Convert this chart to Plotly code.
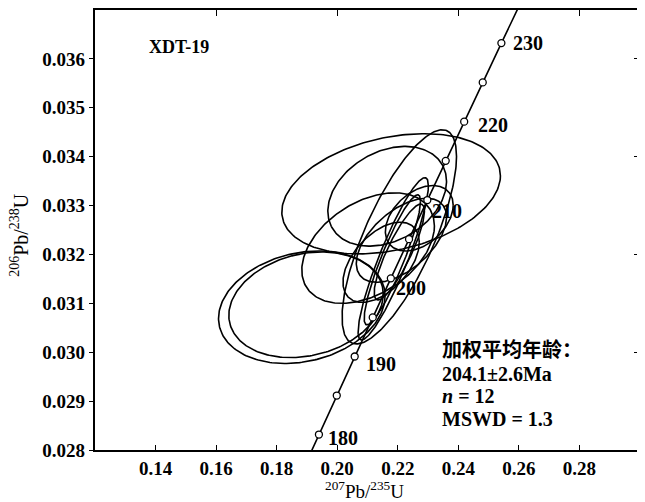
import numpy as np
import plotly.graph_objects as go

# Concordia reference points (age in Ma, 207Pb/235U, 206Pb/238U)
conc_age = [175, 180, 185, 190, 195, 200, 205, 210, 215, 220, 225, 230, 235]
conc_x = [0.18809, 0.19396, 0.19985, 0.20577, 0.21173, 0.21771, 0.22372, 0.22976,
          0.23583, 0.24193, 0.24806, 0.25422, 0.26041]
conc_y = [0.027519, 0.028316, 0.029114, 0.029912, 0.030712, 0.031511, 0.032312,
          0.033113, 0.033914, 0.034716, 0.035519, 0.036323, 0.037127]
label_ages = [180, 190, 200, 210, 220, 230]

# Zircon analyses: 207Pb/235U, half-extent, 206Pb/238U, half-extent, error correlation
ell_x = [0.2178, 0.2165, 0.2102, 0.1883, 0.1897, 0.2205, 0.2185, 0.2182, 0.2271, 0.2205, 0.2145, 0.2212]
ell_sx = [0.0361, 0.0196, 0.0219, 0.0275, 0.0255, 0.0189, 0.0116, 0.0093, 0.0112, 0.0083, 0.0126, 0.0149]
ell_y = [0.03324, 0.03319, 0.03213, 0.03092, 0.03097, 0.03236, 0.03191, 0.03189, 0.03274, 0.03205, 0.03184, 0.03229]
ell_sy = [0.00123, 0.00102, 0.00113, 0.00115, 0.00108, 0.00219, 0.00166, 0.00133, 0.00067, 0.00098, 0.00082, 0.00086]
ell_rho = [0.30, 0.30, 0.40, 0.20, 0.20, 0.75, 0.90, 0.90, 0.40, 0.85, 0.50, 0.55]

x_ticks = [0.14, 0.16, 0.18, 0.20, 0.22, 0.24, 0.26, 0.28]
y_ticks = [0.028, 0.029, 0.030, 0.031, 0.032, 0.033, 0.034, 0.035, 0.036]

FONT = "Liberation Serif"
fig = go.Figure()

t = np.linspace(0, 2 * np.pi, 241)
for cx, sx, cy, sy, r in zip(ell_x, ell_sx, ell_y, ell_sy, ell_rho):
    ex = cx + sx * np.cos(t)
    ey = cy + sy * (r * np.cos(t) + np.sqrt(1 - r * r) * np.sin(t))
    fig.add_trace(go.Scatter(x=ex, y=ey, mode="lines",
                             line=dict(color="black", width=1.6),
                             hoverinfo="skip", showlegend=False))

# concordia curve
fig.add_trace(go.Scatter(x=conc_x, y=conc_y, mode="lines",
                         line=dict(color="black", width=1.6),
                         hoverinfo="skip", showlegend=False))
mx = [x for a, x in zip(conc_age, conc_x) if 180 <= a <= 230]
my = [y for a, y in zip(conc_age, conc_y) if 180 <= a <= 230]
fig.add_trace(go.Scatter(x=mx, y=my, mode="markers",
                         marker=dict(size=7, color="white", line=dict(color="black", width=1.3)),
                         hoverinfo="skip", showlegend=False, cliponaxis=False))

# invisible trace for the top/right tick axes
fig.add_trace(go.Scatter(x=[0.2], y=[0.03], xaxis="x2", yaxis="y2", mode="markers",
                         marker=dict(opacity=0), hoverinfo="skip", showlegend=False))

label_shift = {180: (7, -3), 190: (9, -7), 200: (3, -10), 210: (3, -11), 220: (12, -3), 230: (10, 0)}
for a in label_ages:
    i = conc_age.index(a)
    dx, dy = label_shift[a]
    fig.add_annotation(x=conc_x[i], y=conc_y[i], text=str(a), showarrow=False,
                       xanchor="left", yanchor="middle", xshift=dx, yshift=dy,
                       font=dict(family=FONT, size=20, color="black", weight="bold"))

fig.add_annotation(x=0.1372, y=0.03624, text="XDT-19", showarrow=False, xanchor="left",
                   yanchor="middle", font=dict(family=FONT, size=18, color="black", weight="bold"))

info = [("加权平均年龄：", 0.030086, "Noto Sans CJK SC", 20),
        ("204.1±2.6Ma", 0.029554, FONT, 20),
        ("<i>n</i> = 12", 0.029104, FONT, 20),
        ("MSWD = 1.3", 0.028634, FONT, 20)]
for txt, yy, fam, sz in info:
    fig.add_annotation(x=0.2341, y=yy, text=txt, showarrow=False, xanchor="left", yanchor="middle",
                       font=dict(family=fam, size=sz, color="black", weight="bold"))

fig.add_annotation(xref="paper", yref="paper", x=0.495, y=-0.0915, text="<sup>207</sup>Pb/<sup>235</sup>U",
                   showarrow=False, xanchor="center", yanchor="middle",
                   font=dict(family=FONT, size=19, color="black"))
fig.add_annotation(xref="paper", yref="paper", x=-0.1394, y=0.489, text="<sup>206</sup>Pb/<sup>238</sup>U",
                   showarrow=False, xanchor="center", yanchor="middle", textangle=-90,
                   font=dict(family=FONT, size=20, color="black"))

tickfont = dict(family=FONT, size=19, color="black", weight="bold")
fig.update_layout(
    width=637, height=494,
    margin=dict(l=87, r=5, t=2, b=52),
    paper_bgcolor="white", plot_bgcolor="white",
    showlegend=False,
    xaxis=dict(range=[0.12, 0.30], tickvals=x_ticks, ticktext=[f"{v:.2f}" for v in x_ticks],
               automargin=False,
               showgrid=False, zeroline=False, showline=True, linecolor="black", linewidth=2.2,
               ticks="inside", ticklen=5, tickcolor="black", tickwidth=1.3, tickfont=tickfont),
    yaxis=dict(range=[0.028, 0.037], tickvals=y_ticks, ticktext=[f"{v:.3f}" for v in y_ticks],
               automargin=False,
               showgrid=False, zeroline=False, showline=True, linecolor="black", linewidth=2.2,
               ticks="outside", ticklen=4, tickcolor="black", tickwidth=1.3, tickfont=tickfont),
    xaxis2=dict(range=[0.12, 0.30], overlaying="x", side="top", anchor="y", tick0=0.16, dtick=0.04,
                showticklabels=False, showgrid=False, zeroline=False, showline=True, automargin=False,
                linecolor="black", linewidth=1.5, ticks="inside", ticklen=6, tickcolor="black", tickwidth=1.3),
    yaxis2=dict(range=[0.028, 0.037], overlaying="y", side="right", anchor="x", tick0=0.028, dtick=0.002,
                showticklabels=False, showgrid=False, zeroline=False, showline=True, automargin=False,
                linecolor="black", linewidth=1.5, ticks="inside", ticklen=6, tickcolor="black", tickwidth=1.3),
)

fig.write_html("out.html")
